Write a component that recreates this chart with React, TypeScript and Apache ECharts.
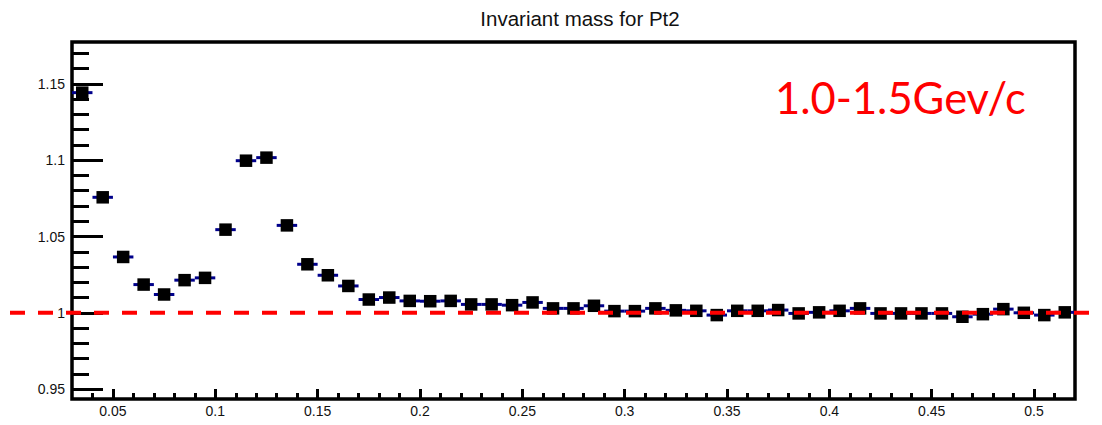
import React, { useEffect, useRef } from "react";
import * as echarts from "echarts";

// ---- data ----
const binCenters = [
  0.035, 0.045, 0.055, 0.065, 0.075, 0.085, 0.095, 0.105, 0.115, 0.125,
  0.135, 0.145, 0.155, 0.165, 0.175, 0.185, 0.195, 0.205, 0.215, 0.225,
  0.235, 0.245, 0.255, 0.265, 0.275, 0.285, 0.295, 0.305, 0.315, 0.325,
  0.335, 0.345, 0.355, 0.365, 0.375, 0.385, 0.395, 0.405, 0.415, 0.425,
  0.435, 0.445, 0.455, 0.465, 0.475, 0.485, 0.495, 0.505, 0.515,
];
const ratioValues = [
  1.1443, 1.0757, 1.0366, 1.0185, 1.012, 1.0214, 1.0229, 1.0545, 1.0997, 1.1017,
  1.0573, 1.0318, 1.0246, 1.0176, 1.0087, 1.01, 1.0078, 1.0076, 1.0078, 1.0055,
  1.0055, 1.005, 1.0068, 1.0029, 1.0029, 1.0046, 1.0011, 1.0011, 1.0029, 1.0016,
  1.0013, 0.9985, 1.0013, 1.0013, 1.0018, 0.9996, 1.0003, 1.0013, 1.0029, 0.9996,
  0.9996, 0.9996, 0.9996, 0.9974, 0.9991, 1.0024, 1.0, 0.9985, 1.0003,
];
const binWidth = 0.01;
const referenceLevel = 1;

const xRange = [0.03, 0.52];
const yRange = [0.9435, 1.1775];
const xTickLabels = [0.05, 0.1, 0.15, 0.2, 0.25, 0.3, 0.35, 0.4, 0.45, 0.5];
const yTickLabels = [0.95, 1, 1.05, 1.1, 1.15];
const xMinorTicks = Array.from({ length: 48 }, (_, i) => Math.round((0.04 + i * 0.01) * 1000) / 1000);
const yMinorTicks = Array.from({ length: 23 }, (_, i) => Math.round((0.95 + i * 0.01) * 1000) / 1000);

const titleText = "Invariant mass for Pt2";
const rangeLabel = "1.0-1.5Gev/c";

export default function App() {
  const ref = useRef<HTMLDivElement>(null);

  useEffect(() => {
    const chart = echarts.init(ref.current as HTMLDivElement, null, { renderer: "svg" });
    const points = binCenters.map((x, i) => [x, ratioValues[i]]);
    const labelFont = "Liberation Sans, Arial, sans-serif";

    const option: any = {
      animation: false,
      backgroundColor: "#ffffff",
      title: {
        text: titleText,
        left: 575,
        textAlign: "center",
        top: 3,
        textStyle: { fontFamily: labelFont, fontSize: 20.5, fontWeight: "normal", color: "#111" },
      },
      grid: {
        left: 72,
        right: 27,
        top: 42,
        bottom: 26,
        show: true,
        borderColor: "#000",
        borderWidth: 3.5,
        backgroundColor: "transparent",
      },
      xAxis: [
        {
          type: "value",
          min: xRange[0],
          max: xRange[1],
          position: "bottom",
          axisLine: { show: false },
          splitLine: { show: false },
          axisTick: {
            show: true,
            inside: true,
            length: 10,
            customValues: xTickLabels,
            lineStyle: { color: "#000", width: 3 },
          },
          axisLabel: {
            customValues: xTickLabels,
            margin: 5,
            fontFamily: labelFont,
            fontSize: 14,
            color: "#111",
          },
        },
        {
          type: "value",
          min: xRange[0],
          max: xRange[1],
          position: "bottom",
          axisLine: { show: false },
          splitLine: { show: false },
          axisLabel: { show: false },
          axisTick: {
            show: true,
            inside: true,
            length: 6,
            customValues: xMinorTicks,
            lineStyle: { color: "#000", width: 3 },
          },
        },
      ],
      yAxis: [
        {
          type: "value",
          min: yRange[0],
          max: yRange[1],
          position: "left",
          axisLine: { show: false },
          splitLine: { show: false },
          axisTick: {
            show: true,
            inside: true,
            length: 31,
            customValues: yTickLabels,
            lineStyle: { color: "#000", width: 3 },
          },
          axisLabel: {
            customValues: yTickLabels,
            margin: 7,
            fontFamily: labelFont,
            fontSize: 14,
            color: "#111",
          },
        },
        {
          type: "value",
          min: yRange[0],
          max: yRange[1],
          position: "left",
          axisLine: { show: false },
          splitLine: { show: false },
          axisLabel: { show: false },
          axisTick: {
            show: true,
            inside: true,
            length: 17,
            customValues: yMinorTicks,
            lineStyle: { color: "#000", width: 3 },
          },
        },
      ],
      series: [
        {
          type: "custom",
          xAxisIndex: 0,
          yAxisIndex: 0,
          data: points,
          z: 2,
          renderItem: (params: any, api: any) => {
            const x = api.value(0);
            const y = api.value(1);
            const p1 = api.coord([x - binWidth / 2, y]);
            const p2 = api.coord([x + binWidth / 2, y]);
            return {
              type: "line",
              shape: { x1: p1[0], y1: p1[1], x2: p2[0], y2: p2[1] },
              style: { stroke: "#00008b", lineWidth: 3 },
            };
          },
        },
        {
          type: "scatter",
          xAxisIndex: 0,
          yAxisIndex: 0,
          data: points,
          symbol: "rect",
          symbolSize: 12.5,
          itemStyle: { color: "#000", opacity: 1 },
          z: 3,
        },
      ],
    };

    chart.setOption(option);

    const yPix = chart.convertToPixel({ yAxisIndex: 0 }, referenceLevel) as number;
    chart.setOption({
      graphic: [
        {
          type: "line",
          z: 100,
          shape: { x1: 10, y1: yPix, x2: 1102, y2: yPix },
          style: { stroke: "#ff0000", lineWidth: 4, lineDash: [15, 13] },
        },
        {
          type: "text",
          z: 100,
          x: 775,
          y: 97,
          style: {
            text: rangeLabel,
            fill: "#ff0000",
            font: "43.5px Lato",
            verticalAlign: "middle",
            align: "left",
          },
        },
      ],
    });

    return () => chart.dispose();
  }, []);

  return (
    <div
      ref={ref}
      style={{ position: "absolute", left: 0, top: 0, width: 1102, height: 425, background: "#fff" }}
    />
  );
}
